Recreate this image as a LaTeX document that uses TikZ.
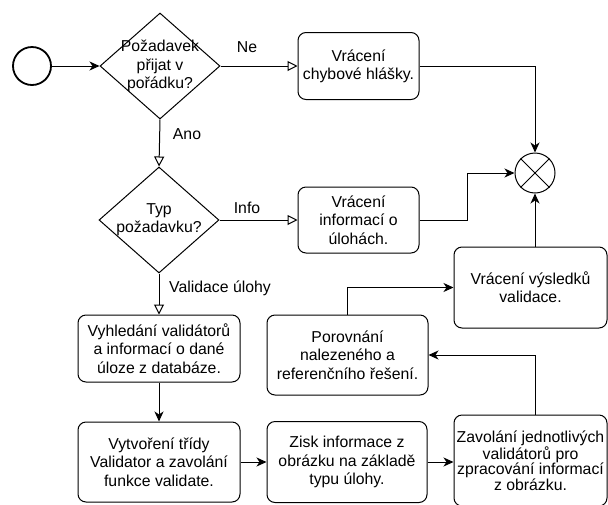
\documentclass[tikz,border=0pt]{standalone}
\usepackage{fontspec}
\setmainfont{Liberation Sans}
\usetikzlibrary{shapes.geometric, arrows.meta, positioning}

\begin{document}
\begin{tikzpicture}[x=1pt, y=-1pt,
  every node/.style={font=\fontsize{15.8}{18.3}\selectfont},
  box/.style={rectangle, rounded corners=8pt, draw=black, line width=1pt,
              align=center, inner sep=0pt},
  decision/.style={diamond, draw=black, line width=1pt, inner sep=0pt,
                   minimum width=120pt, minimum height=106pt},
  arrow/.style={-{Stealth[length=10pt, width=9pt, inset=3pt]}, line width=1pt},
  openarrow/.style={-{Triangle[open, length=10pt, width=10pt, fill=white]}, line width=1pt},
  edgelabel/.style={inner sep=0pt}
]
  \useasboundingbox (0,0) rectangle (608,504);

  \node[circle, draw=black, line width=1.8pt, minimum size=38pt, inner sep=0pt] (start) at (32,66) {};
  \node[decision] (req) at (160,66) {};
  \node[align=center, inner sep=0pt] (reqtext) at (req) {Požadavek\\přijat v\\pořádku?};
  \node[decision] (type) at (159,220) {};
  \node[align=center, inner sep=0pt] (typetext) at (type) {Typ\\požadavku?};

  \node[box, minimum width=121pt, minimum height=67pt] (err)  at (358.5,66)  {Vrácení\\chybové hlášky.};
  \node[box, minimum width=121pt, minimum height=66pt] (info) at (358.5,220) {Vrácení\\informací o\\úlohách.};
  \node[circle, draw=black, line width=1pt, minimum size=40pt, inner sep=0pt] (merge) at (535,173) {};
  \draw[line width=1pt] (merge.north east) -- (merge.south west)
                        (merge.north west) -- (merge.south east);

  \node[box, minimum width=162pt, minimum height=67pt] (find)    at (159,348.5) {Vyhledání validátorů\\a informací o dané\\úloze z databáze.};
  \node[box, minimum width=162pt, minimum height=80pt] (create)  at (159,462)   {Vytvoření třídy\\Validator a zavolání\\funkce validate.};
  \node[box, minimum width=160pt, minimum height=81pt] (extract) at (347,462)   {Zisk informace z\\obrázku na základě\\typu úlohy.};
  \node[box, minimum width=153pt, minimum height=91pt, font=\fontsize{15.8}{15.6}\selectfont] (call) at (530.5,460.5) {Zavolání jednotlivých\\validátorů pro\\zpracování informací\\z obrázku.};
  \node[box, minimum width=161pt, minimum height=80pt] (compare) at (347.5,355) {Porovnání\\nalezeného a\\referenčního řešení.};
  \node[box, minimum width=153pt, minimum height=81pt] (result)  at (530.5,287.5) {Vrácení výsledků\\validace.};

  \node[edgelabel] (ne)    at (247,47)  {Ne};
  \node[edgelabel] (ano)   at (187,134) {Ano};
  \node[edgelabel] (infol) at (247,208) {Info};
  \node[edgelabel] (valid) at (220,288) {Validace úlohy};

  \coordinate (infobend) at (467,220);

  \draw[arrow] (start) -- (req.west);
  \draw[openarrow] (req.east) -- (err.west);
  \draw[openarrow] (req.south) -- (type.north);
  \draw[openarrow] (type.east) -- (info.west);
  \draw[openarrow] (type.south) -- (find.north);
  \draw[arrow] (err.east) -| (merge.north);
  \draw[arrow] (info.east) -- (infobend) |- (merge.west);
  \draw[arrow] (find) -- (create);
  \draw[arrow] (create) -- (extract);
  \draw[arrow] (extract.east) -- (extract.east -| call.west);
  \draw[arrow] (call.north -| merge) |- (compare.east);
  \draw[arrow] (compare.north) |- (result.west);
  \draw[arrow] (result.north -| merge) -- (merge.south);
\end{tikzpicture}
\end{document}
